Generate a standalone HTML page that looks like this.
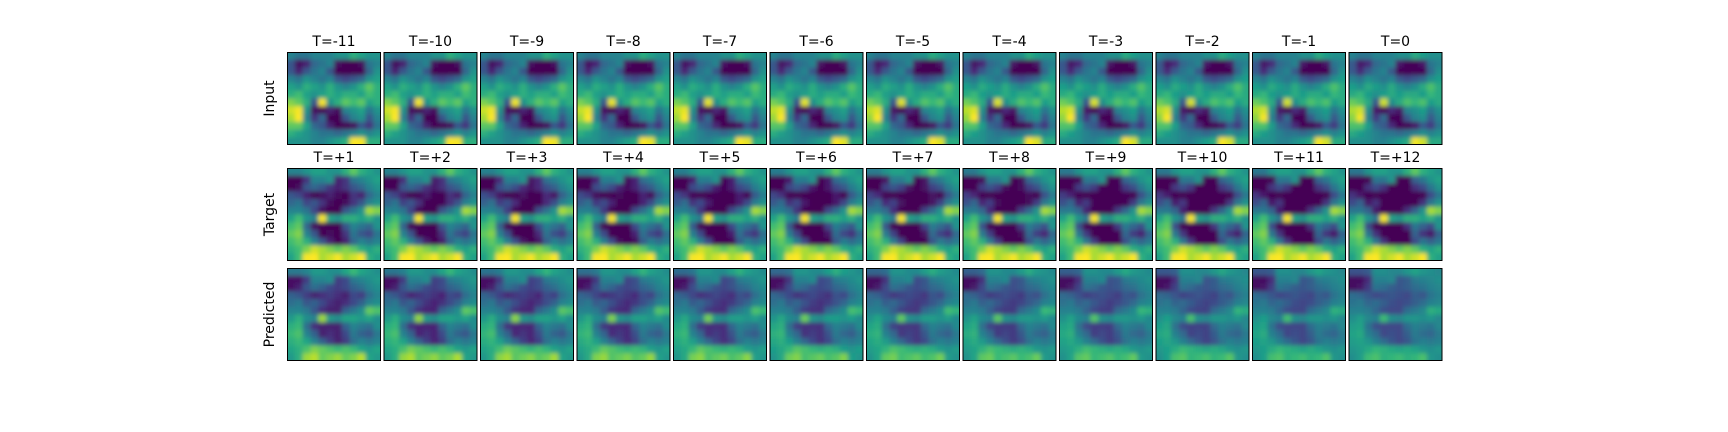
<!DOCTYPE html>
<html><head><meta charset="utf-8"><style>
html,body{margin:0;padding:0;background:#fff;}
svg{display:block;}
text{font-family:"DejaVu Sans","Liberation Sans",sans-serif;font-size:14px;fill:#000;}
</style></head><body>
<svg id="fig" width="1728" height="432" xmlns="http://www.w3.org/2000/svg">
<defs><filter id="blur" x="-20%" y="-20%" width="140%" height="140%"><feGaussianBlur stdDeviation="2.2"/></filter></defs>
</svg>
<script>
const colLabelsTop = ["T=-11","T=-10","T=-9","T=-8","T=-7","T=-6","T=-5","T=-4","T=-3","T=-2","T=-1","T=0"];
const colLabelsMid = ["T=+1","T=+2","T=+3","T=+4","T=+5","T=+6","T=+7","T=+8","T=+9","T=+10","T=+11","T=+12"];
const rowLabels = ["Input","Target","Predicted"];
const inputField = [
[0.45,0.4,0.4,0.45,0.45,0.45,0.5,0.5,0.6,0.55,0.5,0.5],
[0.3,0.1,0.15,0.35,0.4,0.45,0.1,0.05,0.05,0.1,0.4,0.45],
[0.3,0.15,0.3,0.4,0.45,0.3,0.05,0.05,0.05,0.05,0.35,0.5],
[0.45,0.4,0.5,0.45,0.4,0.45,0.3,0.25,0.3,0.35,0.5,0.55],
[0.55,0.5,0.6,0.55,0.5,0.6,0.5,0.45,0.5,0.6,0.7,0.6],
[0.6,0.65,0.55,0.5,0.55,0.6,0.55,0.6,0.6,0.55,0.65,0.6],
[0.75,0.7,0.6,0.3,0.9,0.5,0.6,0.7,0.65,0.7,0.55,0.6],
[0.85,0.9,0.5,0.1,0.05,0.15,0.1,0.45,0.5,0.55,0.4,0.5],
[0.8,0.95,0.45,0.2,0.35,0.05,0.05,0.3,0.45,0.5,0.3,0.45],
[0.7,0.7,0.55,0.35,0.3,0.15,0.05,0.05,0.1,0.3,0.2,0.4],
[0.6,0.55,0.5,0.45,0.4,0.4,0.35,0.4,0.45,0.5,0.45,0.5],
[0.5,0.5,0.5,0.45,0.45,0.5,0.55,0.6,0.95,0.9,0.6,0.6]];
const targetField = [
[0.45,0.45,0.5,0.55,0.55,0.5,0.5,0.6,0.7,0.6,0.55,0.5],
[0.05,0.05,0.2,0.45,0.45,0.5,0.15,0.2,0.4,0.45,0.5,0.55],
[0.05,0.1,0.3,0.35,0.3,0.2,0.15,0.2,0.3,0.35,0.45,0.5],
[0.3,0.25,0.15,0.05,0.1,0.15,0.1,0.05,0.2,0.15,0.35,0.45],
[0.35,0.4,0.25,0.3,0.2,0.1,0.05,0.1,0.2,0.3,0.45,0.5],
[0.45,0.45,0.4,0.25,0.1,0.05,0.05,0.3,0.4,0.5,0.8,0.75],
[0.55,0.65,0.5,0.45,0.9,0.55,0.5,0.6,0.6,0.55,0.6,0.5],
[0.65,0.7,0.35,0.1,0.05,0.05,0.05,0.3,0.45,0.4,0.35,0.5],
[0.7,0.75,0.45,0.3,0.05,0.1,0.05,0.2,0.4,0.3,0.25,0.4],
[0.65,0.7,0.6,0.45,0.3,0.15,0.05,0.15,0.35,0.45,0.4,0.45],
[0.6,0.65,0.75,0.85,0.8,0.75,0.7,0.75,0.7,0.6,0.55,0.6],
[0.55,0.65,0.9,0.95,0.8,0.85,0.9,0.8,0.85,0.95,0.6,0.55]];
// per-column evolution
const inputShift = [0,0,-0.02,-0.04,-0.05,-0.06,-0.07,-0.08,-0.09,-0.1,-0.11,-0.12];
const targetDarken = [0,0.02,0.05,0.08,0.1,0.12,0.15,0.18,0.2,0.22,0.24,0.25];
const predSmooth = [0.1,0.13,0.16,0.2,0.23,0.26,0.3,0.33,0.36,0.4,0.43,0.45];

const VIR=[[68,1,84],[72,40,120],[62,74,137],[49,104,142],[38,130,142],[31,158,137],[53,183,121],[109,205,89],[180,222,44],[253,231,37]];
function vir(t){t=Math.max(0,Math.min(1,t));const p=t*9,i=Math.min(8,Math.floor(p)),f=p-i;const a=VIR[i],b=VIR[i+1];
return `rgb(${Math.round(a[0]+(b[0]-a[0])*f)},${Math.round(a[1]+(b[1]-a[1])*f)},${Math.round(a[2]+(b[2]-a[2])*f)})`;}

const svg=document.getElementById('fig');const NS="http://www.w3.org/2000/svg";
function mk(tag,attrs,parent){const e=document.createElementNS(NS,tag);for(const k in attrs)e.setAttribute(k,attrs[k]);(parent||svg).appendChild(e);return e;}
const x0=287, dx=96.5, W=94, rowTops=[52,168,268], H=93;
function colX(c){return x0+c*dx;}
function stretch(v){return 0.45+(v-0.45)*1.2;}

function fieldFor(r,c){
  const out=[];
  for(let i=0;i<12;i++){out.push([]);for(let j=0;j<12;j++){
    let v;
    if(r===0){v=stretch(inputField[i][j])+inputShift[c]*(inputField[i][j]-0.4);}
    else if(r===1){const b=stretch(targetField[i][j]);v=b<0.5?b-targetDarken[c]*(0.6-b)*1.5:b;}
    else{const b=targetField[i][j];v=b*(1-predSmooth[c])+0.42*predSmooth[c];if(i<3&&j<3)v-=predSmooth[c]*0.4;}
    out[i].push(v);}}
  return out;
}

for(let r=0;r<3;r++){
  for(let c=0;c<12;c++){
    const x=colX(c),y=rowTops[r];
    const g=mk('g',{});
    
    
    const cid=`clip${r}_${c}`;
    const cp=mk('clipPath',{id:cid},g);mk('rect',{x:x,y:y,width:W,height:H},cp);
    const cg=mk('g',{'clip-path':`url(#${cid})`},g);
    const bg=mk('g',{filter:'url(#blur)'},cg);
    const f=fieldFor(r,c);
    let mean=0;f.forEach(rw=>rw.forEach(v=>mean+=v));mean/=144;
    mk('rect',{x:x-10,y:y-10,width:W+20,height:H+20,fill:vir(mean)},bg);
    const cw=W/12,ch=H/12;
    for(let i=0;i<12;i++)for(let j=0;j<12;j++){
      const ex=(j===0?-6:0),ey=(i===0?-6:0),ew=(j===11?6:0)-ex,eh=(i===11?6:0)-ey;
      const cell=mk('rect',{x:x+j*cw+ex,y:y+i*ch+ey,width:cw+ew+0.5,height:ch+eh+0.5,fill:vir(f[i][j])},bg);
      
      
    }
    mk('rect',{x:x+0.5,y:y+0.5,width:W-1,height:H-1,fill:'none',stroke:'#000','stroke-width':1},g);
  }
}
for(let c=0;c<12;c++){
  const t1=mk('text',{x:colX(c)+W/2,y:46,'text-anchor':'middle'});t1.textContent=colLabelsTop[c];
  
  
  const t2=mk('text',{x:colX(c)+W/2,y:162,'text-anchor':'middle'});t2.textContent=colLabelsMid[c];
  
  
}
for(let r=0;r<3;r++){
  const cy=rowTops[r]+H/2, cx=274;
  const t=mk('text',{x:cx,y:cy,'text-anchor':'middle',transform:`rotate(-90 ${cx} ${cy})`});t.textContent=rowLabels[r];
  
  
}
</script>
</body></html>
